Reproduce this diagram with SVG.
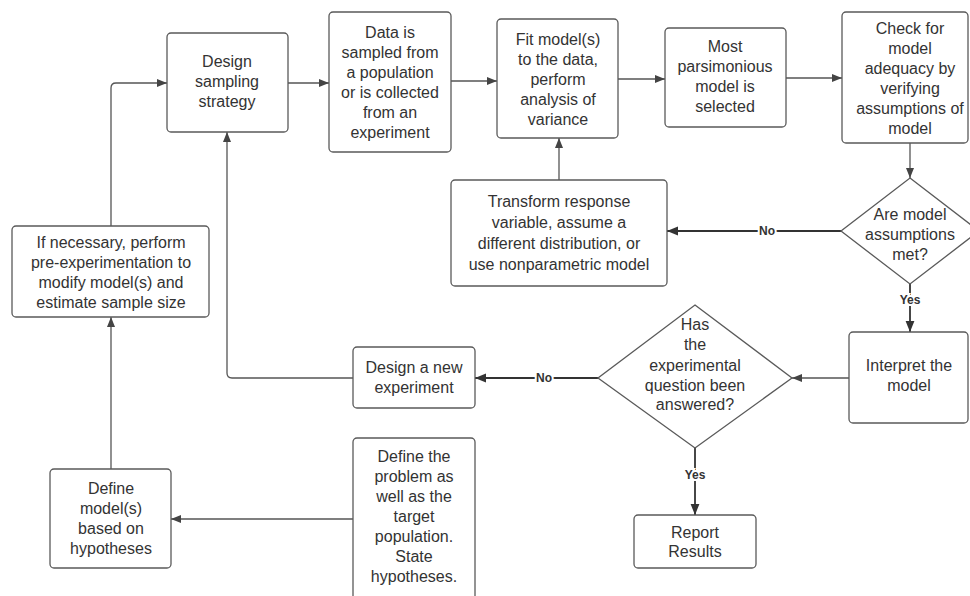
<svg xmlns="http://www.w3.org/2000/svg" width="970" height="596" viewBox="0 0 970 596">
  <style>
    .box { fill: #ffffff; stroke: #5a5a5a; stroke-width: 1.3; }
    .t { font-family: "Liberation Sans", Arial, sans-serif; font-size: 16px; fill: #333333; text-anchor: middle; }
    .lbl { font-family: "Liberation Sans", Arial, sans-serif; font-size: 12px; font-weight: bold; fill: #333333; text-anchor: middle; paint-order: stroke; stroke: #ffffff; stroke-width: 4px; }
    .c { fill: none; stroke: #555555; stroke-width: 1.3; marker-end: url(#arrow); }
    .cb { fill: none; stroke: #333333; stroke-width: 1.8; marker-end: url(#arrowb); }
  </style>
  <defs>
    <marker id="arrow" viewBox="0 0 10 10" refX="10" refY="5" markerWidth="10" markerHeight="10" markerUnits="userSpaceOnUse" orient="auto">
      <path d="M0,1 L10,5 L0,9 Z" fill="#444444"/>
    </marker>
    <marker id="arrowb" viewBox="0 0 10 10" refX="10" refY="5" markerWidth="11" markerHeight="11" markerUnits="userSpaceOnUse" orient="auto">
      <path d="M0,1 L10,5 L0,9 Z" fill="#333333"/>
    </marker>
  </defs>

  <rect width="970" height="596" fill="#ffffff"/>

  <!-- connectors -->
  <g id="connectors">
    <path class="c" d="M353,519 H171"/>
    <path class="c" d="M111,469 V317"/>
    <path class="c" d="M111,226 V88 Q111,83 116,83 H167"/>
    <path class="c" d="M288,83 H329"/>
    <path class="c" d="M451,81 H497"/>
    <path class="c" d="M618,79 H665"/>
    <path class="c" d="M786,78 H842"/>
    <path class="c" d="M910,143 V178"/>
    <path class="cb" d="M841,231 H667"/>
    <path class="c" d="M559,180 V138"/>
    <path class="cb" d="M910,284 V332"/>
    <path class="c" d="M849,378 H792"/>
    <path class="cb" d="M598,378 H475"/>
    <path class="c" d="M353,378 H232 Q227,378 227,373 V132"/>
    <path class="cb" d="M695,448 V515"/>
    <text class="lbl" x="767" y="235">No</text>
    <text class="lbl" x="910" y="304">Yes</text>
    <text class="lbl" x="544" y="382">No</text>
    <text class="lbl" x="695" y="479">Yes</text>
  </g>

  <g id="design-sampling">
    <rect class="box" x="167" y="33" width="121" height="99" rx="4"/>
    <text class="t" x="227" y="67">Design</text>
    <text class="t" x="227" y="87">sampling</text>
    <text class="t" x="227" y="107">strategy</text>
  </g>

  <g id="data-sampled">
    <rect class="box" x="329" y="12" width="122" height="140" rx="4"/>
    <text class="t" x="390" y="38">Data is</text>
    <text class="t" x="390" y="58">sampled from</text>
    <text class="t" x="390" y="78">a population</text>
    <text class="t" x="390" y="98">or is collected</text>
    <text class="t" x="390" y="118">from an</text>
    <text class="t" x="390" y="138">experiment</text>
  </g>

  <g id="fit-models">
    <rect class="box" x="497" y="19" width="121" height="119" rx="4"/>
    <text class="t" x="558" y="45">Fit model(s)</text>
    <text class="t" x="558" y="65">to the data,</text>
    <text class="t" x="558" y="85">perform</text>
    <text class="t" x="558" y="105">analysis of</text>
    <text class="t" x="558" y="125">variance</text>
  </g>

  <g id="most-parsimonious">
    <rect class="box" x="665" y="28" width="121" height="99" rx="4"/>
    <text class="t" x="725" y="52">Most</text>
    <text class="t" x="725" y="72">parsimonious</text>
    <text class="t" x="725" y="92">model is</text>
    <text class="t" x="725" y="112">selected</text>
  </g>

  <g id="check-adequacy">
    <rect class="box" x="842" y="12" width="126" height="131" rx="4"/>
    <text class="t" x="910" y="34">Check for</text>
    <text class="t" x="910" y="54">model</text>
    <text class="t" x="910" y="74">adequacy by</text>
    <text class="t" x="910" y="94">verifying</text>
    <text class="t" x="910" y="114">assumptions of</text>
    <text class="t" x="910" y="134">model</text>
  </g>

  <g id="assumptions-met">
    <polygon class="box" points="910,178 979,231 910,284 841,231"/>
    <text class="t" x="910" y="220">Are model</text>
    <text class="t" x="910" y="240">assumptions</text>
    <text class="t" x="910" y="260">met?</text>
  </g>

  <g id="transform-response">
    <rect class="box" x="451" y="180" width="216" height="106" rx="4"/>
    <text class="t" x="559" y="207">Transform response</text>
    <text class="t" x="559" y="228">variable, assume a</text>
    <text class="t" x="559" y="249">different distribution, or</text>
    <text class="t" x="559" y="270">use nonparametric model</text>
  </g>

  <g id="interpret-model">
    <rect class="box" x="849" y="332" width="119" height="91" rx="4"/>
    <text class="t" x="909" y="371">Interpret the</text>
    <text class="t" x="909" y="391">model</text>
  </g>

  <g id="question-answered">
    <polygon class="box" points="695,305 792,378 695,448 598,378"/>
    <text class="t" x="695" y="330">Has</text>
    <text class="t" x="695" y="350">the</text>
    <text class="t" x="695" y="371">experimental</text>
    <text class="t" x="695" y="391">question been</text>
    <text class="t" x="695" y="410">answered?</text>
  </g>

  <g id="design-new-experiment">
    <rect class="box" x="353" y="347" width="122" height="61" rx="4"/>
    <text class="t" x="414" y="373">Design a new</text>
    <text class="t" x="414" y="393">experiment</text>
  </g>

  <g id="report-results">
    <rect class="box" x="634" y="515" width="122" height="53" rx="4"/>
    <text class="t" x="695" y="538">Report</text>
    <text class="t" x="695" y="557">Results</text>
  </g>

  <g id="pre-experimentation">
    <rect class="box" x="12" y="226" width="197" height="91" rx="4"/>
    <text class="t" x="111" y="248">If necessary, perform</text>
    <text class="t" x="111" y="268">pre-experimentation to</text>
    <text class="t" x="111" y="288">modify model(s) and</text>
    <text class="t" x="111" y="308">estimate sample size</text>
  </g>

  <g id="define-models">
    <rect class="box" x="50" y="469" width="121" height="99" rx="4"/>
    <text class="t" x="111" y="494">Define</text>
    <text class="t" x="111" y="514">model(s)</text>
    <text class="t" x="111" y="534">based on</text>
    <text class="t" x="111" y="554">hypotheses</text>
  </g>

  <g id="define-problem">
    <rect class="box" x="353" y="438" width="122" height="170" rx="4"/>
    <text class="t" x="414" y="462">Define the</text>
    <text class="t" x="414" y="482">problem as</text>
    <text class="t" x="414" y="502">well as the</text>
    <text class="t" x="414" y="522">target</text>
    <text class="t" x="414" y="542">population.</text>
    <text class="t" x="414" y="562">State</text>
    <text class="t" x="414" y="582">hypotheses.</text>
  </g>
</svg>
